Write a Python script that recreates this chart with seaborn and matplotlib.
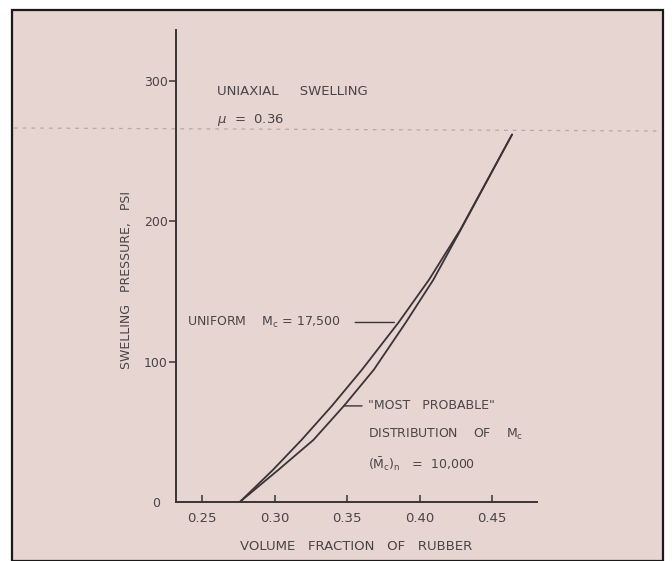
import matplotlib
matplotlib.use("Agg")
import matplotlib.pyplot as plt
import seaborn as sns
import pandas as pd
from matplotlib.patches import Rectangle
from matplotlib.lines import Line2D

# ---- data ----
uniform_x = [0.276, 0.2988, 0.3186, 0.3395, 0.3602, 0.3855, 0.4065, 0.4282, 0.4638]
uniform_y = [0, 22.8, 44.2, 68.4, 94.1, 127.8, 158.2, 194.0, 261.6]
probable_x = [0.276, 0.3025, 0.3268, 0.3478, 0.3684, 0.3905, 0.4095, 0.4285, 0.4638]
probable_y = [0, 22.8, 44.2, 68.4, 94.1, 127.8, 158.2, 194.0, 261.6]
x_ticks = [0.25, 0.30, 0.35, 0.40, 0.45]
x_tick_labels = ["0.25", "0.30", "0.35", "0.40", "0.45"]
y_ticks = [0, 100, 200, 300]
y_tick_labels = ["0", "100", "200", "300"]

df = pd.concat([
    pd.DataFrame({"x": uniform_x, "y": uniform_y, "series": "uniform"}),
    pd.DataFrame({"x": probable_x, "y": probable_y, "series": "probable"}),
])

sns.set_theme(style="ticks")
plt.rcParams["font.family"] = ["DejaVu Sans"]
plt.rcParams["mathtext.fontset"] = "dejavusans"

ink = "#3a3436"
paper = "#e7d5d1"
tc = "#4a4446"

fig = plt.figure(figsize=(6.72, 5.61), dpi=100, facecolor="white")
fig.patches.append(Rectangle((12 / 672, 0), (663 - 12) / 672, 1 - 10 / 561,
                             transform=fig.transFigure, facecolor=paper,
                             edgecolor="#1a1a1a", linewidth=1.6, zorder=-10))
fig.lines.append(Line2D([14 / 672, 661 / 672], [1 - 128 / 561, 1 - 131 / 561],
                        transform=fig.transFigure, color="#b9a9a6",
                        linewidth=0.9, linestyle=(0, (3, 4)), zorder=-5))

ax = fig.add_axes([176 / 672, 1 - 502 / 561, (537 - 176) / 672, (502 - 30) / 561])
ax.set_facecolor("none")

sns.lineplot(data=df, x="x", y="y", hue="series", estimator=None, sort=False,
             palette={"uniform": ink, "probable": ink}, linewidth=1.3,
             legend=False, ax=ax)
for ln in ax.get_lines():
    ln.set_solid_joinstyle("round")

ax.set_xlim(0.232, 0.481)
ax.set_ylim(0, 336)
for s in ["top", "right"]:
    ax.spines[s].set_visible(False)
for s in ["left", "bottom"]:
    ax.spines[s].set_color(ink)
    ax.spines[s].set_linewidth(1.4)

ax.set_xticks(x_ticks)
ax.set_xticklabels(x_tick_labels)
ax.set_yticks(y_ticks)
ax.set_yticklabels(y_tick_labels)
ax.tick_params(axis="x", direction="in", length=5, width=1.1, color=ink,
               labelsize=9.5, labelcolor=tc, pad=7)
ax.tick_params(axis="y", direction="out", length=5, width=1.1, color=ink,
               labelsize=9, labelcolor=tc, pad=1)
ax.yaxis.get_major_ticks()[0].tick1line.set_visible(False)
ax.yaxis.get_major_ticks()[0].label1.set_x(-0.02)

ax.set_xlabel("VOLUME   FRACTION   OF   RUBBER", fontsize=9.5, color=tc, labelpad=11)
ax.set_ylabel("SWELLING   PRESSURE,   PSI", fontsize=9, color=tc)
ax.yaxis.set_label_coords(-0.12, 0.47)

ax.text(0.2605, 292, "UNIAXIAL     SWELLING", fontsize=9.5, color=tc, va="center")
ax.text(0.2600, 272, r"$\mu$  =  0.36", fontsize=9.5, color=tc, va="center")

ax.annotate("UNIFORM    $\\mathregular{M_c}$ = 17,500", xy=(0.3855, 127.8),
            xytext=(0.2395, 127.8), fontsize=9, color=tc, va="center",
            arrowprops=dict(arrowstyle="-", color=ink, lw=1.0, shrinkA=8, shrinkB=3))
ax.annotate("\"MOST   PROBABLE\"", xy=(0.3478, 68.4), xytext=(0.3645, 68.4),
            fontsize=9, color=tc, va="center",
            arrowprops=dict(arrowstyle="-", color=ink, lw=1.0, shrinkA=2, shrinkB=0))
ax.text(0.3645, 48, "DISTRIBUTION    OF    $\\mathregular{M_c}$", fontsize=9,
        color=tc, va="center")
ax.text(0.3645, 27, "$\\mathregular{(\\bar{M}_c)_n}$   =  10,000", fontsize=9,
        color=tc, va="center")

fig.savefig("out.png", dpi=100, facecolor=fig.get_facecolor())
